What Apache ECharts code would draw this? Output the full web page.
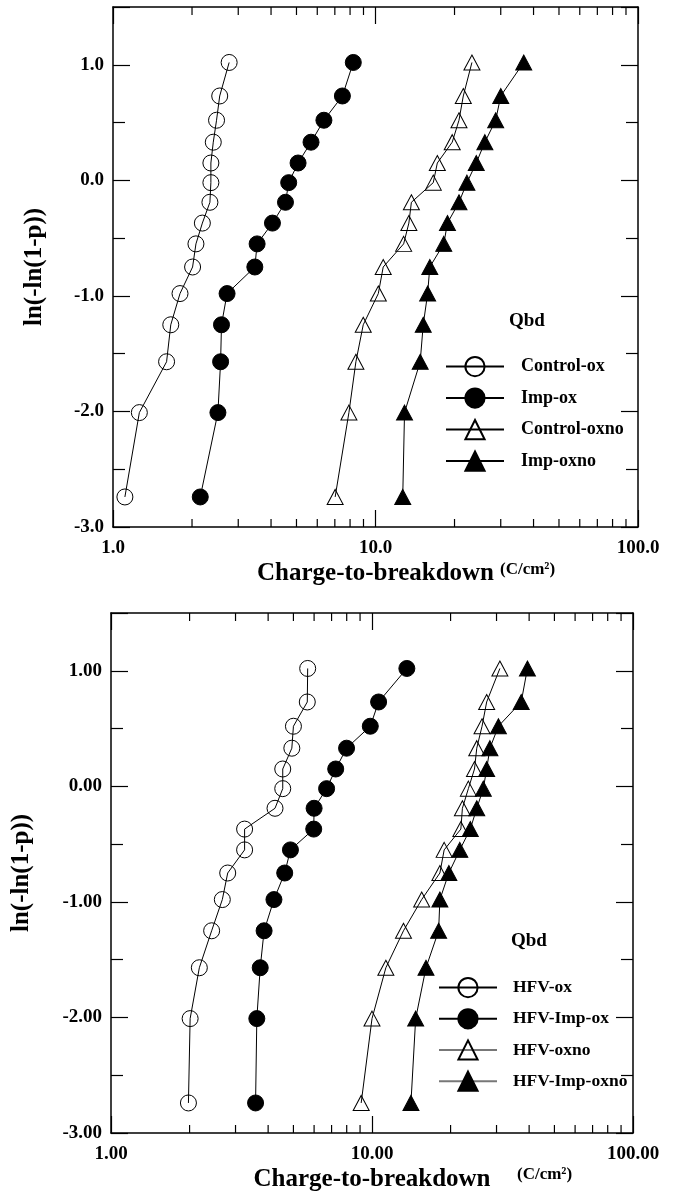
<!DOCTYPE html>
<html>
<head>
<meta charset="utf-8">
<script src="https://cdn.jsdelivr.net/npm/echarts@6/dist/echarts.min.js"></script>
<style>
html,body{margin:0;padding:0;background:#fff;}
#chart{width:675px;height:1194px;}
</style>
</head>
<body>
<div id="chart"></div>
<script>
// Weibull plotting positions ln(-ln(1-p)) shared by all series
const yPos = [-2.74, -2.01, -1.57, -1.25, -0.98, -0.75, -0.55, -0.37, -0.19, -0.02, 0.15, 0.33, 0.52, 0.73, 1.02];

// Top chart: charge-to-breakdown (C/cm2)
const names1 = ['Control-ox', 'Imp-ox', 'Control-oxno', 'Imp-oxno'];
const controlOx   = [1.11, 1.26, 1.60, 1.66, 1.80, 2.01, 2.07, 2.19, 2.34, 2.36, 2.36, 2.41, 2.48, 2.55, 2.77];
const impOx       = [2.15, 2.51, 2.57, 2.59, 2.72, 3.47, 3.54, 4.05, 4.54, 4.67, 5.07, 5.68, 6.36, 7.48, 8.23];
const controlOxno = [7.02, 7.92, 8.42, 8.98, 10.25, 10.7, 12.8, 13.4, 13.7, 16.6, 17.2, 19.6, 20.8, 21.6, 23.3];
const impOxno     = [12.7, 12.9, 14.8, 15.2, 15.8, 16.1, 18.2, 18.8, 20.8, 22.3, 24.2, 26.1, 28.7, 30.0, 36.7];

// Bottom chart
const names2 = ['HFV-ox', 'HFV-Imp-ox', 'HFV-oxno', 'HFV-Imp-oxno'];
const hfvOx      = [1.98, 2.01, 2.18, 2.43, 2.67, 2.80, 3.25, 3.25, 4.25, 4.55, 4.55, 4.93, 5.00, 5.65, 5.67];
const hfvImpOx   = [3.58, 3.62, 3.73, 3.86, 4.21, 4.63, 4.87, 5.98, 6.00, 6.70, 7.26, 7.99, 9.85, 10.6, 13.6];
const hfvOxno    = [9.09, 10.0, 11.3, 13.2, 15.5, 18.2, 18.9, 21.9, 22.2, 23.4, 24.7, 25.2, 26.4, 27.5, 30.9];
const hfvImpOxno = [14.1, 14.7, 16.1, 18.0, 18.2, 19.7, 21.7, 23.8, 25.2, 26.7, 27.5, 28.3, 30.5, 37.3, 39.4];

// Axis settings
const xMin = 1, xMax = 100;
const yMin = -3, yMax = 1.5;
const xMinorTicks = [2, 3, 4, 5, 6, 7, 8, 9, 20, 30, 40, 50, 60, 70, 80, 90];
const xTitle = 'Charge-to-breakdown';
const xUnit = '(C/cm²)';
const yTitle = 'ln(-ln(1-p))';
const legendTitle = 'Qbd';

const FONT = '"Liberation Serif", "Times New Roman", serif';

const chart = echarts.init(document.getElementById('chart'), null, {renderer: 'canvas'});

const grids = [
  {left: 113, top: 7, width: 525, height: 520},
  {left: 111, top: 613, width: 522, height: 520}
];

function xAxes(gridIndex, decimals, isTop) {
  return {
    type: 'log', logBase: 10, gridIndex: gridIndex, min: xMin, max: xMax,
    position: isTop ? 'top' : 'bottom',
    name: isTop ? '' : xTitle,
    nameLocation: 'middle', nameGap: 34,
    nameTextStyle: {fontFamily: FONT, fontWeight: 'bold', fontSize: 25, color: '#000'},
    axisLine: {show: true, onZero: false, lineStyle: {color: '#000', width: 1.5}},
    axisTick: {show: true, inside: true, length: 17, lineStyle: {color: '#000', width: 1.2}},
    axisLabel: {show: !isTop, margin: 12, fontFamily: FONT, fontWeight: 'bold', fontSize: 19, color: '#000',
      showMinLabel: true, showMaxLabel: true,
      formatter: v => Number(v).toFixed(decimals)},
    splitLine: {show: false}, minorSplitLine: {show: false}
  };
}
function yAxes(gridIndex, decimals, isRight, gap) {
  return {
    type: 'value', gridIndex: gridIndex, min: yMin, max: yMax, interval: 1,
    position: isRight ? 'right' : 'left',
    name: isRight ? '' : yTitle,
    nameLocation: 'middle', nameGap: gap, nameRotate: 90,
    nameTextStyle: {fontFamily: FONT, fontWeight: 'bold', fontSize: 25, color: '#000'},
    axisLine: {show: true, onZero: false, lineStyle: {color: '#000', width: 1.5}},
    axisTick: {show: true, inside: true, length: 17, lineStyle: {color: '#000', width: 1.2}},
    minorTick: {show: true, splitNumber: 2, length: 12, lineStyle: {color: '#000', width: 1.2}},
    axisLabel: {show: !isRight, margin: 9, fontFamily: FONT, fontWeight: 'bold', fontSize: 19, color: '#000',
      formatter: v => (Math.abs(v - Math.round(v)) < 1e-9 ? (Math.abs(v) < 1e-9 ? 0 : v).toFixed(decimals) : '')},
    splitLine: {show: false}, minorSplitLine: {show: false}
  };
}

const styles = [
  {symbol: 'circle', size: 16, fill: 'transparent'},
  {symbol: 'circle', size: 16, fill: '#000'},
  {symbol: 'triangle', size: [16, 15], fill: 'transparent'},
  {symbol: 'triangle', size: [16, 15], fill: '#000'}
];

function mkSeries(name, xs, idx, gi) {
  const st = styles[idx];
  return {
    type: 'line', name: name,
    xAxisIndex: gi * 2, yAxisIndex: gi * 2,
    data: xs.map((x, i) => [x, yPos[i]]),
    symbol: st.symbol, symbolSize: st.size,
    itemStyle: {color: st.fill, borderColor: '#000', borderWidth: 1},
    lineStyle: {color: '#000', width: 1},
    emphasis: {disabled: true}, animation: false, z: 3
  };
}

function minorTickSeries(gi) {
  return {
    type: 'custom', xAxisIndex: gi * 2, yAxisIndex: gi * 2, silent: true, animation: false,
    data: xMinorTicks.map(v => [v]),
    encode: {x: 0},
    renderItem: function (params, api) {
      const v = api.value(0);
      const b = api.coord([v, yMin]);
      const t = api.coord([v, yMax]);
      const st = {stroke: '#000', lineWidth: 1.2};
      return {type: 'group', children: [
        {type: 'line', shape: {x1: b[0], y1: b[1], x2: b[0], y2: b[1] - 8}, style: st},
        {type: 'line', shape: {x1: t[0], y1: t[1], x2: t[0], y2: t[1] + 8}, style: st}
      ]};
    },
    z: 2
  };
}

const legendText = {fontFamily: FONT, fontWeight: 'bold', fontSize: 18, color: '#000'};

const option = {
  backgroundColor: '#fff',
  animation: false,
  grid: grids.map(g => Object.assign({show: false, containLabel: false}, g)),
  xAxis: [xAxes(0, 1, false), xAxes(0, 1, true), xAxes(1, 2, false), xAxes(1, 2, true)],
  yAxis: [yAxes(0, 1, false, 66), yAxes(0, 1, true, 0), yAxes(1, 2, false, 77), yAxes(1, 2, true, 0)],
  legend: [
    {
      orient: 'vertical', left: 440, top: 351, itemWidth: 58, itemHeight: 24, itemGap: 10.3,
      data: names1.map((n, i) => ({name: n})),
      textStyle: Object.assign({padding: [0, 0, 0, 12]}, legendText),
      selectedMode: false
    },
    {
      orient: 'vertical', left: 433, top: 972, itemWidth: 58, itemHeight: 24, itemGap: 10,
      data: names2.map((n, i) => ({name: n, lineStyle: i >= 2 ? {color: '#777'} : undefined})),
      textStyle: Object.assign({padding: [0, 0, 0, 11]}, legendText, {fontSize: 17.5}),
      selectedMode: false
    }
  ],
  graphic: [
    {type: 'text', left: 509, top: 312, style: {text: legendTitle, font: 'bold 19px ' + FONT, fill: '#000'}},
    {type: 'text', left: 511, top: 932, style: {text: legendTitle, font: 'bold 19px ' + FONT, fill: '#000'}},
    {type: 'text', left: 500, top: 561, style: {text: xUnit, font: 'bold 17px ' + FONT, fill: '#000'}},
    {type: 'text', left: 517, top: 1166, style: {text: xUnit, font: 'bold 17px ' + FONT, fill: '#000'}}
  ],
  series: [
    mkSeries(names1[0], controlOx, 0, 0),
    mkSeries(names1[1], impOx, 1, 0),
    mkSeries(names1[2], controlOxno, 2, 0),
    mkSeries(names1[3], impOxno, 3, 0),
    mkSeries(names2[0], hfvOx, 0, 1),
    mkSeries(names2[1], hfvImpOx, 1, 1),
    mkSeries(names2[2], hfvOxno, 2, 1),
    mkSeries(names2[3], hfvImpOxno, 3, 1),
    minorTickSeries(0),
    minorTickSeries(1)
  ]
};
chart.setOption(option);
</script>
</body>
</html>
